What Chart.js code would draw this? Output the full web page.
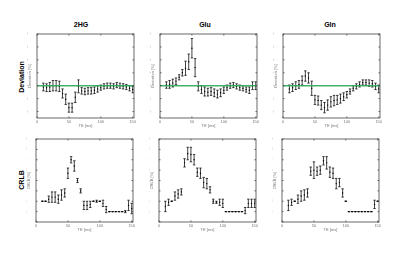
<!DOCTYPE html>
<html>
<head>
<meta charset="utf-8">
<script src="https://cdn.jsdelivr.net/npm/chart.js@4"></script>
<style>
  body { margin:0; width:400px; height:253px; background:#fff; position:relative; overflow:hidden;
         font-family:"Liberation Sans", Arial, sans-serif; }
  canvas { position:absolute; }
  .col { position:absolute; font-weight:bold; font-size:7px; transform:translate(-50%,-50%); white-space:nowrap; }
  .row { position:absolute; font-weight:bold; font-size:7px; transform:translate(-50%,-50%) rotate(-90deg); white-space:nowrap; }
</style>
</head>
<body>
<div class="col" style="left:81px;top:24px">2HG</div>
<div class="col" style="left:205px;top:24px">Glu</div>
<div class="col" style="left:330px;top:24px">Gln</div>
<div class="row" style="left:21px;top:77px">Deviation</div>
<div class="row" style="left:21px;top:180px">CRLB</div>

<canvas id="dev1" width="111" height="98" style="left:27px;top:30px"></canvas>
<canvas id="dev2" width="111" height="98" style="left:150px;top:30px"></canvas>
<canvas id="dev3" width="111" height="98" style="left:273px;top:30px"></canvas>
<canvas id="crlb1" width="111" height="97" style="left:26px;top:135px"></canvas>
<canvas id="crlb2" width="111" height="97" style="left:149px;top:135px"></canvas>
<canvas id="crlb3" width="111" height="97" style="left:272px;top:135px"></canvas>

<script>
// echo times [ms]
const te = [10,15,20,25,30,35,40,45,50,55,60,65,70,75,80,85,90,95,100,105,110,115,120,125,130,135,140,145,150]

// deviation [%] (mean and +/- spread)
const hgDev    = [-1,-1.5,-1,0,0,-0.5,-6,-10.5,-17,-17,-9,-0.5,-4,-4.5,-4,-4,-3.5,-2.5,-1.5,-0.5,0,0,-0.5,0.5,0,-0.5,-1,-2,-3]
const hgDevErr = [3,3,3.5,4,4,4,3.5,4,3.5,3.5,4,5,2.5,2.5,2.5,2.5,2.5,2.5,2,2,2,2,2,2,2,2,2,2,2.5]
const gluDev    = [0.5,1,2,3.5,6.5,10,13.5,18.5,29,14,-0.5,-3,-4.5,-5,-4.5,-5.5,-6.5,-5.5,-3.5,-1.5,0,0.5,-0.5,-1.5,-2,-3,-3.5,0,0]
const gluDevErr = [2.5,3,3,2.5,2,2.5,5.5,6,7.5,7,3.5,3,3.5,3,3,3,3,3,2.5,2,2,2,2,2,2,2,2.5,3,3]
const glnDev    = [-2.5,-1.5,0,1,4,7.5,6,-2,-11,-11.5,-15,-17,-15,-12.5,-11.5,-11,-10,-8.5,-7,-4.5,-2,-0.5,1,2.5,2.5,2,1.5,-0.5,-2.5]
const glnDevErr = [3,3,3,3,3.5,4,4,5.5,3.5,3.5,3.5,4,4,4,4,3.5,3.5,3,2.5,2,2,2,2,2,2,2.5,2.5,2.5,3]

// CRLB [%]
const hgCrlb     = [3,3,3.2,3.4,3.4,3.2,3.6,3.8,5.7,7,6.4,5,4,2.6,2.6,2.7,3,3,3,2.8,2.2,2,2,2,2,2,2,2.6,2.3]
const hgCrlbErr  = [0,0,0.3,0.5,0.5,0.4,0.5,0.4,0.5,0.3,0.5,0.2,0.2,0.4,0.4,0.3,0,0.1,0,0.3,0.3,0,0,0,0,0,0.1,0.5,0.5]
const gluCrlb    = [2.5,2.9,3,3.5,3.7,3.9,6.7,7.6,7.5,7,5.8,5.7,4.8,4.7,4.1,3,2.9,2.9,2.8,2,2,2,2,2,2,2.1,2.8,2.8,2.8]
const gluCrlbErr = [0.5,0.3,0,0.4,0.4,0.3,0.4,0.6,0.7,0.5,0.4,0.5,0.5,0.5,0.3,0.2,0.1,0.3,0.4,0,0,0,0,0,0,0.3,0.4,0.4,0.4]
const glnCrlb    = [2.6,2.9,3,3.2,3.5,3.6,3.8,5.9,6,5.9,6,6.9,6.7,5.8,5.7,4.7,4.8,3.8,3,2,2,2,2,2,2,2,2,2.7,3]
const glnCrlbErr = [0.5,0.3,0,0.4,0.5,0.5,0.4,0.4,0.8,0.4,0.4,0.4,0.6,0.5,0.5,0.5,0.4,0.4,0,0,0,0,0,0,0,0,0,0.4,0]

const xTicks = [0,50,100,150]
const devTicks = [-20,-10,0,10,20,30,40]
const crlbTicks = [1,2,3,4,5,6,7,8,9]
const refLevel = 0

const errorBars = {
  id: 'errorBars',
  beforeDatasetsDraw(chart) {
    const {ctx, scales:{x, y}} = chart
    ctx.save()
    ctx.strokeStyle = '#111'
    ctx.lineWidth = 0.8
    chart.data.datasets.forEach(ds => {
      if (!ds.err) return
      ds.data.forEach((p, i) => {
        const px = x.getPixelForValue(p.x)
        const y1 = y.getPixelForValue(p.y - ds.err[i])
        const y2 = y.getPixelForValue(p.y + ds.err[i])
        ctx.beginPath()
        ctx.moveTo(px, y1); ctx.lineTo(px, y2)
        ctx.moveTo(px - 1.2, y1); ctx.lineTo(px + 1.2, y1)
        ctx.moveTo(px - 1.2, y2); ctx.lineTo(px + 1.2, y2)
        ctx.stroke()
      })
    })
    ctx.restore()
  },
  afterDatasetsDraw(chart, args, opts) {
    if (!opts.refLine) return
    const {ctx, chartArea, scales:{y}} = chart
    const py = y.getPixelForValue(refLevel)
    ctx.save()
    ctx.strokeStyle = 'rgba(46,168,90,0.9)'
    ctx.lineWidth = 1.6
    ctx.beginPath()
    ctx.moveTo(chartArea.left, py); ctx.lineTo(chartArea.right, py)
    ctx.stroke()
    ctx.restore()
  }
}

// matlab-like box with inward ticks, and x tick labels
const boxAxes = {
  id: 'boxAxes',
  afterDraw(chart) {
    const {ctx, chartArea:a, scales:{x, y}} = chart
    ctx.save()
    ctx.strokeStyle = '#444'
    ctx.lineWidth = 0.8
    ctx.strokeRect(a.left, a.top, a.right - a.left, a.bottom - a.top)
    ctx.beginPath()
    xTicks.forEach(v => {
      const px = x.getPixelForValue(v)
      ctx.moveTo(px, a.bottom); ctx.lineTo(px, a.bottom - 1.5)
      ctx.moveTo(px, a.top); ctx.lineTo(px, a.top + 1.5)
    })
    y.ticks.forEach(t => {
      const py = y.getPixelForValue(t.value)
      ctx.moveTo(a.left, py); ctx.lineTo(a.left + 1.5, py)
      ctx.moveTo(a.right, py); ctx.lineTo(a.right - 1.5, py)
    })
    ctx.stroke()
    ctx.fillStyle = '#777'
    ctx.font = '4px "Liberation Sans"'
    ctx.textAlign = 'center'
    ctx.textBaseline = 'top'
    xTicks.forEach(v => ctx.fillText(String(v), x.getPixelForValue(v), a.bottom + 1.5))
    ctx.restore()
  }
}

const tickFont = {family: 'Liberation Sans', size: 4}

function panel(id, vals, errs, yMin, yMax, yTicks, yTitle, refLine) {
  return new Chart(document.getElementById(id), {
    type: 'scatter',
    data: {
      datasets: [{
        data: te.map((t, i) => ({x: t, y: vals[i]})),
        err: errs,
        pointRadius: 0.7,
        pointBackgroundColor: '#000',
        pointBorderWidth: 0,
        showLine: false
      }]
    },
    options: {
      responsive: false,
      animation: false,
      layout: {padding: {top: 4, right: 4, left: 0, bottom: 0}},
      plugins: {legend: {display: false}, tooltip: {enabled: false}, errorBars: {refLine}},
      scales: {
        x: {
          type: 'linear', min: 0, max: 152,
          afterFit: s => { s.height = 10 },
          grid: {display: false}, border: {display: false},
          ticks: {display: false},
          title: {display: true, text: 'TE [ms]', font: tickFont, color: '#777', padding: 0}
        },
        y: {
          min: yMin, max: yMax,
          afterBuildTicks: s => { s.ticks = yTicks.map(v => ({value: v})) },
          afterFit: s => { s.width = 10 },
          grid: {display: false}, border: {display: false},
          ticks: {font: tickFont, color: '#777', padding: 1.5, autoSkip: false},
          title: {display: true, text: yTitle, font: tickFont, color: '#777', padding: 0}
        }
      }
    },
    plugins: [errorBars, boxAxes]
  })
}

panel('dev1', hgDev, hgDevErr, -25, 40, devTicks, 'Deviation [%]', true)
panel('dev2', gluDev, gluDevErr, -25, 40, devTicks, 'Deviation [%]', true)
panel('dev3', glnDev, glnDevErr, -25, 40, devTicks, 'Deviation [%]', true)
panel('crlb1', hgCrlb, hgCrlbErr, 1, 9, crlbTicks, 'CRLB [%]', false)
panel('crlb2', gluCrlb, gluCrlbErr, 1, 9, crlbTicks, 'CRLB [%]', false)
panel('crlb3', glnCrlb, glnCrlbErr, 1, 9, crlbTicks, 'CRLB [%]', false)
</script>
</body>
</html>
